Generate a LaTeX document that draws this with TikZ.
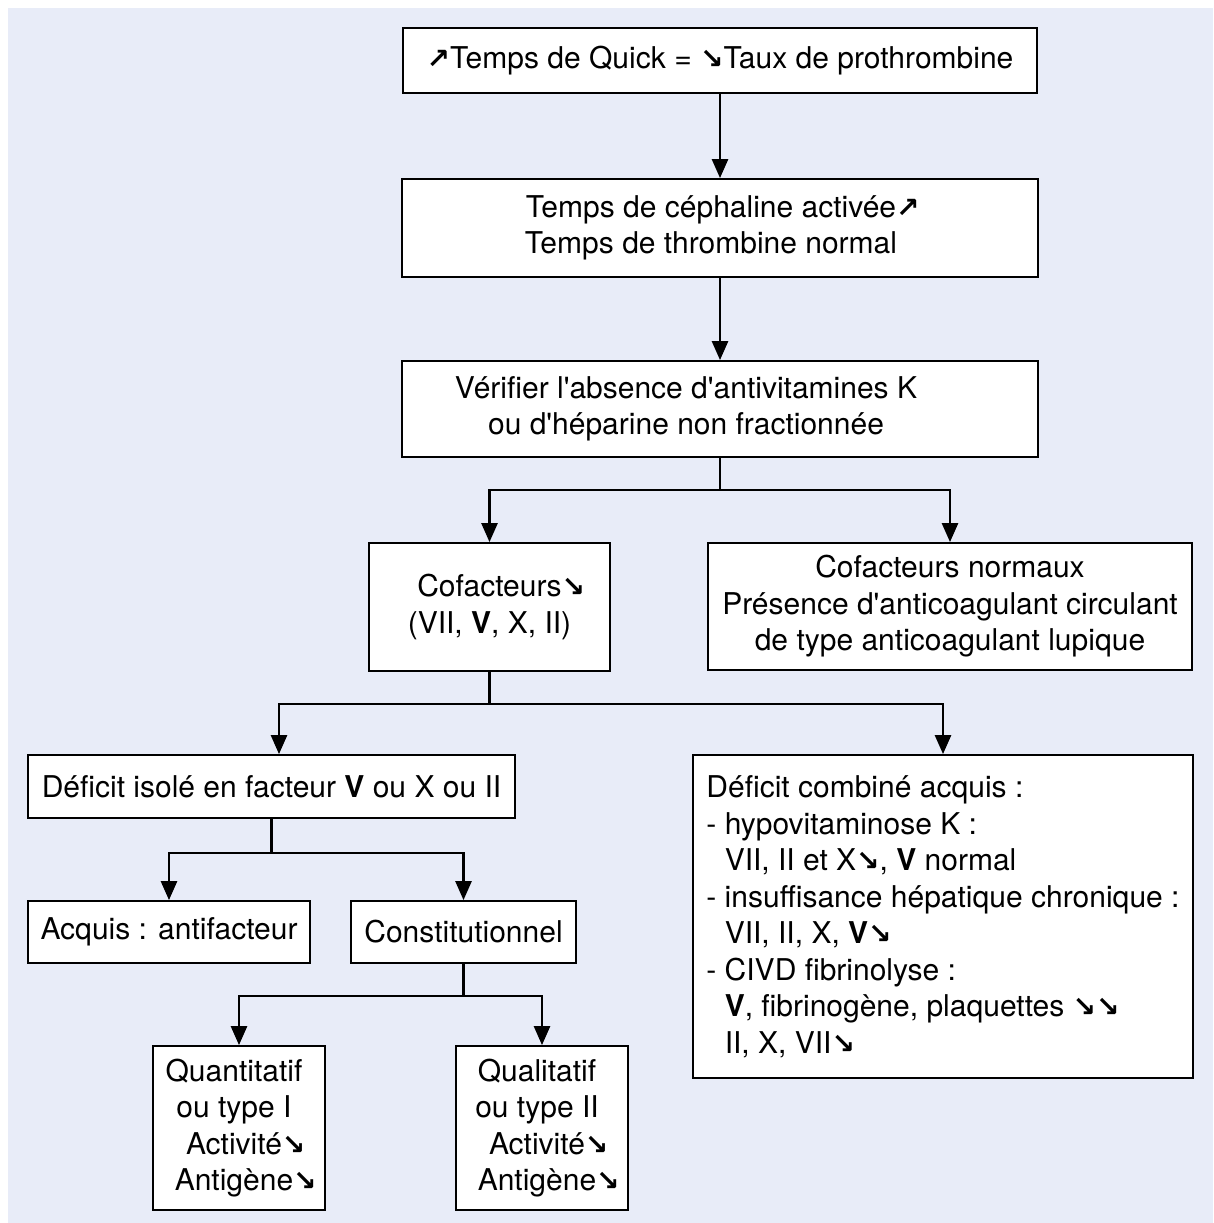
\documentclass[tikz,border=0pt]{standalone}
\usepackage{fontspec}
\setmainfont{TeX Gyre Heros}
\newfontfamily\arrfont{DejaVu Sans Bold}
\usetikzlibrary{arrows.meta}
\definecolor{bgc}{RGB}{232,236,248}
\newcommand{\arrDn}{{\arrfont\fontsize{28}{28}\selectfont ↘}}
\newcommand{\arrUp}{{\arrfont\fontsize{28}{28}\selectfont ↗}}
\newcommand{\ap}{\textquotesingle}
\newcommand{\ind}{\hphantom{-\ }}
\begin{document}
\begin{tikzpicture}[x=1pt,y=-1pt,
  box/.style={draw=black, line width=1.8pt, fill=white, inner sep=0pt, align=center, font=\fontsize{30}{36.5}\selectfont},
  txt/.style={inner sep=0pt, align=center, font=\fontsize{30}{36.5}\selectfont},
  conn/.style={line width=2.6pt, draw=black},
  arr/.style={conn, -{Triangle[length=19pt,width=16pt]}}]
\useasboundingbox (0,0) rectangle (1213,1223);
\fill[bgc] (8,8) rectangle (1213,1223);

\node[box, minimum width=634pt, minimum height=65pt] (b1) at (720,60.5) {\arrUp Temps de Quick = \arrDn Taux de prothrombine};

\node[box, minimum width=636pt, minimum height=98pt] (b2) at (720,228) {};
\node[txt] (b2t) at (711,228) {Temps de céphaline activée\rlap{\arrUp}\\Temps de thrombine normal};

\node[box, minimum width=636pt, minimum height=96pt] (b3) at (720,409) {};
\node[txt] (b3t) at (686,409) {Vérifier l\ap absence d\ap antivitamines K\\ou d\ap héparine non fractionnée};

\node[box, minimum width=241pt, minimum height=128pt] (cof) at (489.5,607) {Cofacteurs\rlap{\arrDn}\\(VII, \textbf{V}, X, II)};
\node[box, minimum width=484pt, minimum height=127pt] (cofn) at (950,606.5) {Cofacteurs normaux\\Présence d\ap anticoagulant circulant\\de type anticoagulant lupique};

\node[box, minimum width=487pt, minimum height=63pt] (di) at (271.5,786.5) {Déficit isolé en facteur \textbf{V} ou X ou II};
\node[box, minimum width=500pt, inner xsep=10pt, minimum height=323pt, align=left] (dc) at (943,916.5) {Déficit combiné acquis :\\- hypovitaminose K :\\\ind VII, II et X\arrDn, \textbf{V} normal\\- insuffisance hépatique chronique :\\\ind VII, II, X, \textbf{V}\arrDn\\- CIVD fibrinolyse :\\\ind\textbf{V}, fibrinogène, plaquettes \arrDn\arrDn\\\ind II, X, VII\arrDn};

\node[box, minimum width=282pt, minimum height=62pt] (acq) at (169,932) {Acquis : antifacteur};
\node[box, minimum width=225pt, minimum height=62pt] (con) at (463.5,932) {Constitutionnel};

\node[box, minimum width=172pt, minimum height=164pt] (qn) at (239,1128) {};
\node[txt] (qnt) at (234,1128) {Quantitatif\\ou type I\\Activité\rlap{\arrDn}\\Antigène\rlap{\arrDn}};
\node[box, minimum width=172pt, minimum height=164pt] (ql) at (542,1128) {};
\node[txt] (qlt) at (537,1128) {Qualitatif\\ou type II\\Activité\rlap{\arrDn}\\Antigène\rlap{\arrDn}};

\draw[arr] (b1.south) -- (b2.north);
\draw[arr] (b2.south) -- (b3.north);
\draw[conn] (b3.south) -- ++(0,32) coordinate (j1);
\draw[arr] (j1) -| (cof.north);
\draw[arr] (j1) -| (cofn.north);
\draw[conn] (cof.south) -- ++(0,32) coordinate (j2);
\draw[arr] (j2) -| ([xshift=7.5pt]di.north);
\draw[arr] (j2) -| (dc.north);
\draw[conn] (di.south) -- ++(0,34) coordinate (j3);
\draw[arr] (j3) -| (acq.north);
\draw[arr] (j3) -| (con.north);
\draw[conn] (con.south) -- ++(0,32) coordinate (j4);
\draw[arr] (j4) -| (qn.north);
\draw[arr] (j4) -| (ql.north);
\end{tikzpicture}
\end{document}
